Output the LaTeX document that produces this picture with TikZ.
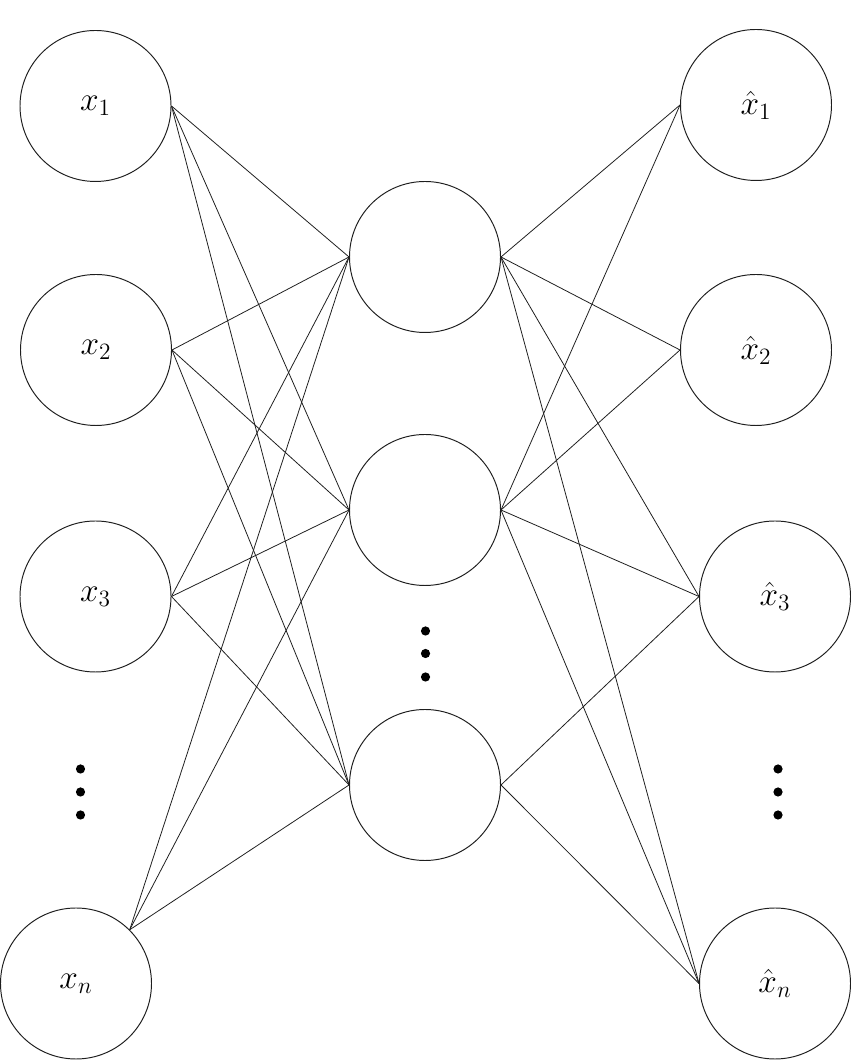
\RequirePackage{fix-cm}
\documentclass[tikz,border=0pt]{standalone}
\usepackage{xcolor}
\usepackage{tikz}
\definecolor{NNLine}{HTML}{1E1E1E}

\begin{document}
\begin{tikzpicture}[x=1cm,y=1cm,
  neuron/.style={circle,draw=NNLine,line width=.55pt,minimum size=3.02cm,inner sep=0pt,font=\fontsize{19}{23}\selectfont},
  link/.style={draw=NNLine,line width=.45pt}]
\path[use as bounding box] (0,0) rectangle (17.02,21.22);
% input layer
\node[neuron] (x1) at (1.91,19.10) {$x_1$};
\node[neuron] (x2) at (1.92,14.22) {$x_2$};
\node[neuron] (x3) at (1.91,9.29) {$x_3$};
\node[neuron] (xn) at (1.52,1.55) {$x_n$};
% hidden layer
\node[neuron] (h1) at (8.50,16.08) {};
\node[neuron] (h2) at (8.50,11.02) {};
\node[neuron] (h3) at (8.50,5.52) {};
% output layer
\node[neuron] (y1) at (15.12,19.12) {$\hat{x}_1$};
\node[neuron] (y2) at (15.12,14.22) {$\hat{x}_2$};
\node[neuron] (y3) at (15.50,9.29) {$\hat{x}_3$};
\node[neuron] (yn) at (15.50,1.55) {$\hat{x}_n$};
% input -> hidden
\draw[link] (x1.east) -- (h1.west);
\draw[link] (x1.east) -- (h2.west);
\draw[link] (x1.east) -- (h3.west);
\draw[link] (x2.east) -- (h1.west);
\draw[link] (x2.east) -- (h2.west);
\draw[link] (x2.east) -- (h3.west);
\draw[link] (x3.east) -- (h1.west);
\draw[link] (x3.east) -- (h2.west);
\draw[link] (x3.east) -- (h3.west);
\draw[link] (xn.north east) -- (h1.west);
\draw[link] (xn.north east) -- (h2.west);
\draw[link] (xn.north east) -- (h3.west);
% hidden -> output
\draw[link] (h1.east) -- (y1.west);
\draw[link] (h1.east) -- (y2.west);
\draw[link] (h1.east) -- (y3.west);
\draw[link] (h1.east) -- (yn.west);
\draw[link] (h2.east) -- (y1.west);
\draw[link] (h2.east) -- (y2.west);
\draw[link] (h2.east) -- (y3.west);
\draw[link] (h2.east) -- (yn.west);
\draw[link] (h3.east) -- (y3.west);
\draw[link] (h3.east) -- (yn.west);
% dots
\fill[black] (1.61,5.84) circle (.092);
\fill[black] (1.61,5.38) circle (.092);
\fill[black] (1.61,4.92) circle (.092);
\fill[black] (8.51,8.60) circle (.092);
\fill[black] (8.51,8.15) circle (.092);
\fill[black] (8.51,7.68) circle (.092);
\fill[black] (15.56,5.84) circle (.092);
\fill[black] (15.56,5.38) circle (.092);
\fill[black] (15.56,4.92) circle (.092);
\end{tikzpicture}
\end{document}
